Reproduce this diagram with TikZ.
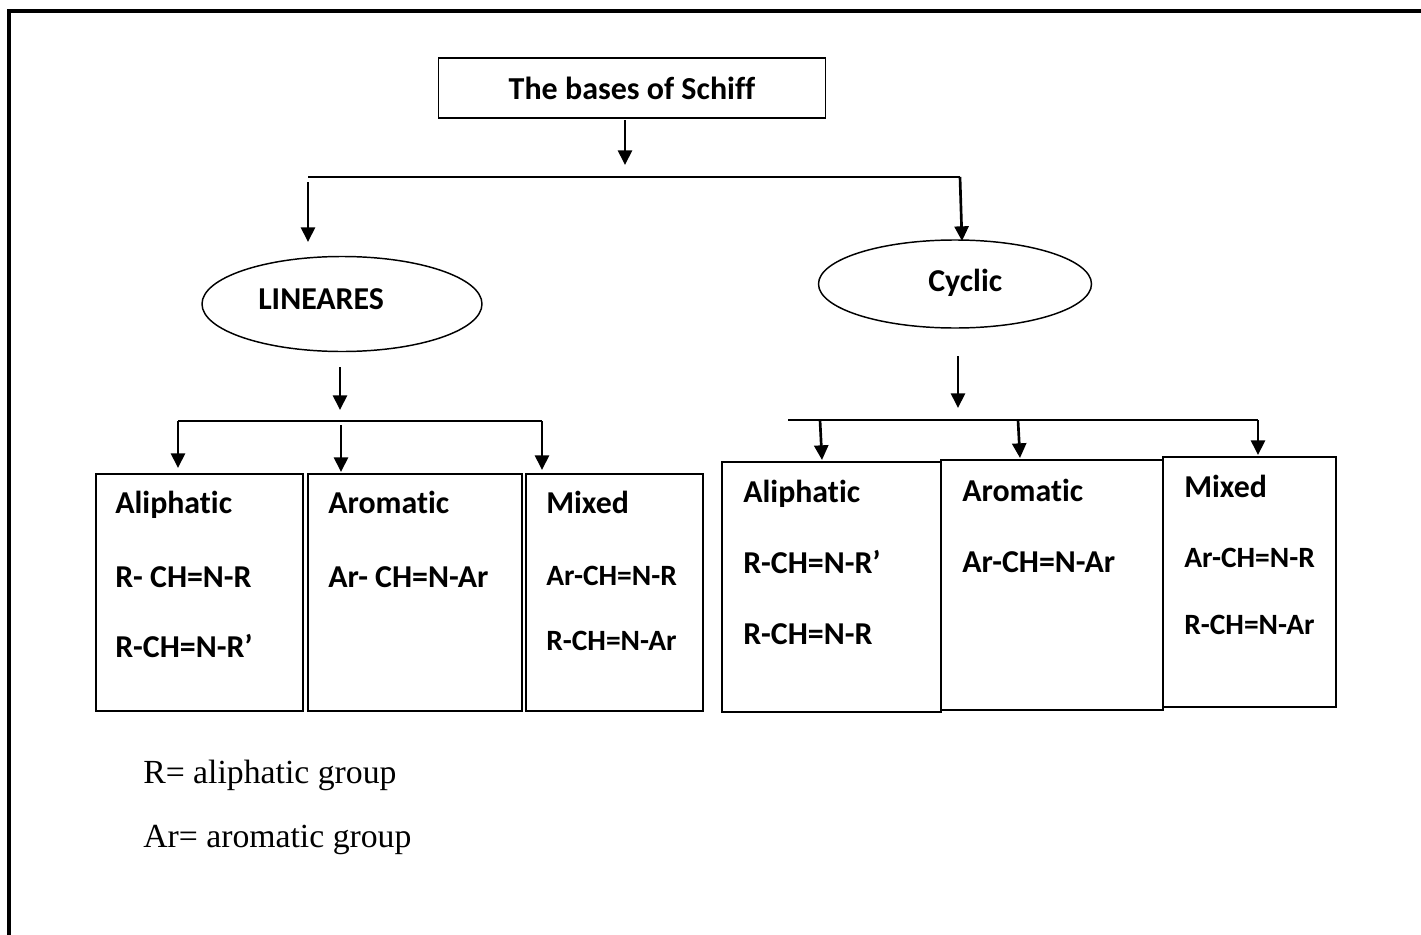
\documentclass[tikz,border=0pt]{standalone}
\usepackage{fontspec}
\setmainfont{Liberation Serif}
\newfontfamily\calfont[Ligatures={NoCommon}]{Carlito}
\usetikzlibrary{arrows.meta,shapes.geometric}
\begin{document}
\begin{tikzpicture}[x=0.75pt,y=-0.75pt,
 lbl/.style={font=\calfont\bfseries\fontsize{23.9}{28}\selectfont, inner sep=0pt, anchor=base west},
 lblsm/.style={font=\calfont\bfseries\fontsize{22.1}{26}\selectfont, inner sep=0pt, anchor=base west},
 legend/.style={font=\fontsize{25.3}{30}\selectfont, inner sep=0pt, anchor=base west},
 box/.style={draw, line width=1.5pt, anchor=north west, inner sep=0pt},
 oval/.style={draw, ellipse, line width=1.1pt, inner sep=0pt},
 arr/.style={line width=2pt, -{Triangle[width=10.5pt,length=11pt]}},
 bar/.style={line width=2pt},
]
\useasboundingbox (0,0) rectangle (1421,935);
% frame
\draw[line width=2.6pt] (9,935) -- (9,11) -- (1421,11);

% title
\node[draw, line width=1.2pt, minimum width=387*0.75pt, minimum height=60*0.75pt, inner sep=0pt,
      font=\calfont\bfseries\fontsize{24}{28}\selectfont] (title) at (632,88) {The bases of Schiff};

% ellipses
\node[oval, minimum width=280*0.75pt, minimum height=95*0.75pt] (lin) at (342,304) {};
\node[lbl] (lint) at (258,309) {LINEARES};
\node[oval, minimum width=273*0.75pt, minimum height=88*0.75pt] (cyc) at (955,284) {};
\node[lbl] (cyct) at (928,291) {Cyclic};

% boxes left
\node[box, minimum width=207*0.75pt, minimum height=237*0.75pt] (b1) at (95,473) {};
\node[box, minimum width=214*0.75pt, minimum height=237*0.75pt] (b2) at (307,473) {};
\node[box, minimum width=177*0.75pt, minimum height=237*0.75pt] (b3) at (525,473) {};
% boxes right
\node[box, minimum width=219*0.75pt, minimum height=250*0.75pt] (b4) at (721,461) {};
\node[box, minimum width=222*0.75pt, minimum height=250*0.75pt] (b5) at (940,459) {};
\node[box, minimum width=173*0.75pt, minimum height=250*0.75pt] (b6) at (1162,456) {};

% texts left
\node[lbl] (t1a) at (115,513) {Aliphatic};
\node[lbl] (t1b) at (115,587) {R- CH=N-R};
\node[lbl] (t1c) at (115,657) {R-CH=N-R’};
\node[lbl] (t2a) at (328,513) {Aromatic};
\node[lbl] (t2b) at (328,587) {Ar- CH=N-Ar};
\node[lbl] (t3a) at (546,513) {Mixed};
\node[lblsm] (t3b) at (546,585) {Ar-CH=N-R};
\node[lblsm] (t3c) at (546,650) {R-CH=N-Ar};
% texts right
\node[lbl] (t4a) at (743,502) {Aliphatic};
\node[lbl] (t4b) at (743,573) {R-CH=N-R’};
\node[lbl] (t4c) at (743,644) {R-CH=N-R};
\node[lbl] (t5a) at (962,501) {Aromatic};
\node[lbl] (t5b) at (962,572) {Ar-CH=N-Ar};
\node[lbl] (t6a) at (1184,497) {Mixed};
\node[lblsm] (t6b) at (1184,567) {Ar-CH=N-R};
\node[lblsm] (t6c) at (1184,634) {R-CH=N-Ar};

% legend
\node[legend] (l1) at (143,783) {R= aliphatic group};
\node[legend] (l2) at (143,847) {Ar= aromatic group};

% coordinates
\coordinate (s0) at (625,120);
\coordinate (e0) at (625,165);
\coordinate (bl) at (308,177);
\coordinate (br) at (960,177);
\coordinate (sl) at (308,182);
\coordinate (el) at (308,242);
\coordinate (er) at (962,241);

\coordinate (s1) at (340,367);
\coordinate (e1) at (340,410);
\coordinate (c1l) at (178,421);
\coordinate (c1r) at (542,421);
\coordinate (c1m) at (341,425);
\coordinate (d1) at (178,468);
\coordinate (d2) at (341,472);
\coordinate (d3) at (542,470);

\coordinate (s2) at (958,356);
\coordinate (e2) at (958,408);
\coordinate (c2l) at (788,420);
\coordinate (c2r) at (1258,420);
\coordinate (c2a) at (820,420);
\coordinate (c2b) at (1018,420);
\coordinate (d4) at (822,460);
\coordinate (d5) at (1020,458);
\coordinate (d6) at (1258,455);

% connectors
\draw[arr] (s0) -- (e0);
\draw[bar] (bl) -- (br);
\draw[arr] (sl) -- (el);
\draw[arr] (br) -- (er);

\draw[arr] (s1) -- (e1);
\draw[bar] (c1l) -- (c1r);
\draw[arr] (c1l) -- (d1);
\draw[arr] (c1m) -- (d2);
\draw[arr] (c1r) -- (d3);

\draw[arr] (s2) -- (e2);
\draw[bar] (c2l) -- (c2r);
\draw[arr] (c2a) -- (d4);
\draw[arr] (c2b) -- (d5);
\draw[arr] (c2r) -- (d6);
\end{tikzpicture}
\end{document}
